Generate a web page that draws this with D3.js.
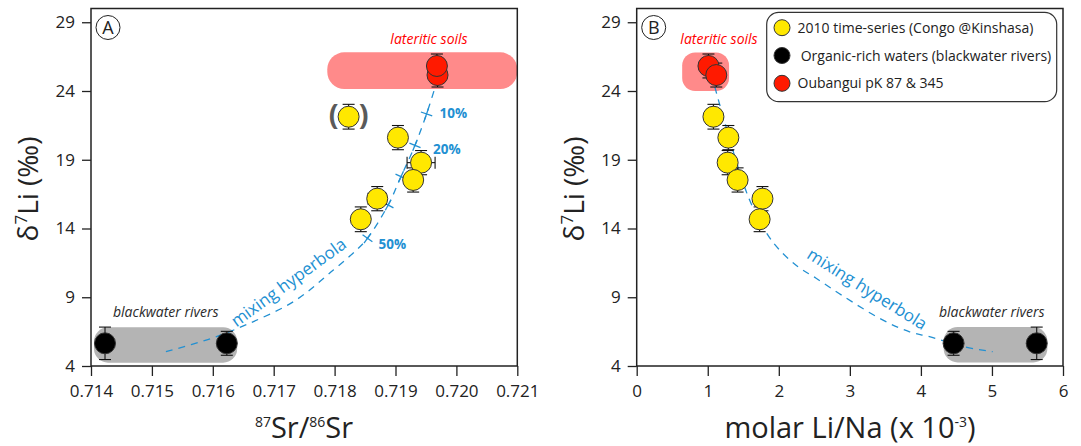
<!DOCTYPE html>
<html lang="en">
<head>
<meta charset="UTF-8">
<title>d7Li mixing</title>
<script src="https://cdn.jsdelivr.net/npm/d3@7"></script>
<style>
    body { margin: 0; background: #fff; }
    svg { display: block; font-family: 'Open Sans', sans-serif; }
</style>
</head>
<body>
<div id="chart"></div>
<script>
// ---- data ----
const srTicks   = [0.714, 0.715, 0.716, 0.717, 0.718, 0.719, 0.720, 0.721];
const liNaTicks = [0, 1, 2, 3, 4, 5, 6];
const d7Ticks   = [4, 9, 14, 19, 24, 29];

// 2010 time-series (Congo @Kinshasa)
const tsSr    = [0.71823, 0.71904, 0.71942, 0.71929, 0.71870, 0.71843];
const tsSrErr = [0, 0, 0.00023, 0, 0.00015, 0];
const tsLiNa  = [1.08, 1.29, 1.28, 1.42, 1.77, 1.73];
const tsD7    = [22.13, 20.61, 18.79, 17.53, 16.17, 14.67];
const tsD7Err = [0.9, 0.88, 0.88, 0.88, 0.88, 0.9];

// organic-rich waters (blackwater rivers)
const bwSr    = [0.71423, 0.71623];
const bwLiNa  = [5.63, 4.46];
const bwD7    = [5.65, 5.65];
const bwD7Err = [1.18, 0.87];

// Oubangui pK 87 & 345
const obSr    = [0.71968, 0.71969];
const obLiNa  = [1.01, 1.12];
const obD7    = [25.82, 25.16];
const obD7Err = [0.87, 0.87];

// mixing hyperbolas
const mixSr     = [0.71523, 0.71593, 0.71660, 0.71735, 0.71798, 0.71836, 0.71854, 0.71888, 0.71909, 0.71932, 0.71951, 0.71964];
const mixSrD7   = [5.04, 5.94, 7.10, 8.75, 10.98, 12.44, 13.29, 15.71, 17.77, 20.05, 22.33, 24.12];
const mixLiNa   = [1.10, 1.17, 1.57, 1.83, 2.01, 2.27, 2.52, 2.90, 3.46, 3.84, 4.12, 4.61, 5.01];
const mixLiNaD7 = [24.30, 22.98, 16.31, 13.65, 12.44, 11.22, 10.40, 9.10, 7.35, 6.49, 6.13, 5.40, 5.04];

// mixing-proportion marks on panel A
const pctSr    = [0.71951, 0.71932, 0.71909, 0.71888, 0.71854];
const pctD7    = [22.33, 20.05, 17.77, 15.71, 13.29];
const pctLabel = ['10%', '20%', '', '', '50%'];

const legendLabels = ['2010 time-series (Congo @Kinshasa)', 'Organic-rich waters (blackwater rivers)', 'Oubangui pK 87 & 345'];
const legendFills  = ['#ffe800', '#000000', '#ff1a00'];

// ---- drawing ----
const width = 1081, height = 446;
const blue = '#2290d2';
// where each percent label sits relative to its mark
const pctOffset = [[13, 4], [18, 9], [0, 0], [0, 0], [11, 11]];

const svg = d3.select('#chart').append('svg')
    .attr('width', width)
    .attr('height', height);

const defs = svg.append('defs');
defs.append('filter').attr('id', 'soft')
    .append('feGaussianBlur').attr('stdDeviation', 0.5);

const y = d3.scaleLinear().domain([4, 30]).range([366, 8.5]);

function drawPanel(p) {
    const g = svg.append('g');
    const x = d3.scaleLinear().domain(p.domain).range([p.left, p.left + 426.3]);

    // shaded end-member fields
    p.bands.forEach(function(b) {
        g.append('rect')
            .attr('x', x(b.x0))
            .attr('y', y(b.y1))
            .attr('width', x(b.x1) - x(b.x0))
            .attr('height', y(b.y0) - y(b.y1))
            .attr('rx', b.r).attr('ry', b.r)
            .attr('fill', b.fill)
            .attr('filter', 'url(#soft)');
    });

    // mixing line
    const line = d3.line()
        .x(function(d) { return x(d[0]); })
        .y(function(d) { return y(d[1]); })
        .curve(d3.curveCatmullRom);
    g.append('path')
        .datum(p.mix)
        .attr('d', line)
        .attr('fill', 'none')
        .attr('stroke', blue)
        .attr('stroke-width', 1.3)
        .attr('stroke-dasharray', '7,6');

    if (p.marks) {
        p.marks.forEach(function(m, k) {
            const i = p.mix.findIndex(function(d) { return d[0] === m[0]; });
            const a = p.mix[Math.max(i - 1, 0)], b = p.mix[Math.min(i + 1, p.mix.length - 1)];
            let dx = x(b[0]) - x(a[0]), dy = y(b[1]) - y(a[1]);
            const len = Math.sqrt(dx * dx + dy * dy);
            dx /= len; dy /= len;
            const cx = x(m[0]), cy = y(m[1]), h = 6;
            g.append('line')
                .attr('x1', cx - dy * h).attr('y1', cy + dx * h)
                .attr('x2', cx + dy * h).attr('y2', cy - dx * h)
                .attr('stroke', blue).attr('stroke-width', 1.3);
            g.append('line')
                .attr('x1', cx - dx * h).attr('y1', cy - dy * h)
                .attr('x2', cx + dx * h).attr('y2', cy + dy * h)
                .attr('stroke', blue).attr('stroke-width', 1.3);
            if (m[2]) {
                g.append('text')
                    .attr('x', cx + pctOffset[k][0]).attr('y', cy + pctOffset[k][1])
                    .attr('fill', blue)
                    .attr('font-size', 13.5)
                    .attr('font-weight', 'bold')
                    .text(m[2]);
            }
        });
    }

    // points with error bars
    p.series.forEach(function(s) {
        s.x.forEach(function(xv, i) {
            const cx = x(xv), cy = y(s.y[i]);
            const t = y(s.y[i] + s.err[i]), bt = y(s.y[i] - s.err[i]);
            g.append('line').attr('x1', cx).attr('x2', cx).attr('y1', t).attr('y2', bt)
                .attr('stroke', '#111').attr('stroke-width', 1.1);
            [t, bt].forEach(function(yy) {
                g.append('line').attr('x1', cx - 6).attr('x2', cx + 6).attr('y1', yy).attr('y2', yy)
                    .attr('stroke', '#111').attr('stroke-width', 1.1);
            });
            if (s.xerr && s.xerr[i]) {
                const l = x(xv - s.xerr[i]), r = x(xv + s.xerr[i]);
                g.append('line').attr('x1', l).attr('x2', r).attr('y1', cy).attr('y2', cy)
                    .attr('stroke', '#111').attr('stroke-width', 1.1);
                [l, r].forEach(function(xx) {
                    g.append('line').attr('x1', xx).attr('x2', xx).attr('y1', cy - 6).attr('y2', cy + 6)
                        .attr('stroke', '#111').attr('stroke-width', 1.1);
                });
            }
        });
        const order = s.x.map(function(d, i) { return i; });
        if (s.reverse) order.reverse();
        order.forEach(function(i) {
            g.append('circle')
                .attr('cx', x(s.x[i])).attr('cy', y(s.y[i]))
                .attr('r', 10.5)
                .attr('fill', s.fill)
                .attr('stroke', '#333')
                .attr('stroke-width', 1);
        });
    });

    // axes
    const xAxis = d3.axisBottom(x).tickValues(p.ticks).tickSize(10).tickPadding(8.5)
        .tickFormat(p.fmt);
    const yAxis = d3.axisLeft(y).tickValues(d7Ticks).tickSize(9).tickPadding(7);
    g.append('g').attr('transform', 'translate(0,366)').call(xAxis);
    g.append('g').attr('transform', 'translate(' + p.left + ',0)').call(yAxis);
    g.selectAll('.domain').remove();
    g.selectAll('.tick line').attr('stroke', '#222').attr('stroke-width', 1.3);
    g.selectAll('.tick text').attr('font-size', 17).attr('fill', '#222')
        .attr('font-family', "'Open Sans', sans-serif");

    g.append('rect')
        .attr('x', p.left).attr('y', y(30))
        .attr('width', 426.3).attr('height', y(4) - y(30))
        .attr('fill', 'none').attr('stroke', '#222').attr('stroke-width', 1.5);

    // panel letter
    g.append('circle').attr('cx', p.left + 17).attr('cy', 27.5).attr('r', 12)
        .attr('fill', '#fff').attr('stroke', '#222').attr('stroke-width', 1);
    g.append('text').attr('x', p.left + 17).attr('y', 34).attr('text-anchor', 'middle')
        .attr('font-size', 18).attr('fill', '#222').text(p.letter);

    // y title
    const yt = g.append('text')
        .attr('transform', 'translate(' + (p.left - 53) + ',189) rotate(-90)')
        .attr('text-anchor', 'middle')
        .attr('font-size', 28).attr('fill', '#222');
    yt.append('tspan').text('δ');
    yt.append('tspan').attr('font-size', 17).attr('dy', -11).text('7');
    yt.append('tspan').attr('dy', 11).text('Li (‰)');

    return { g: g, x: x };
}

// ---- panel A ----
const A = drawPanel({
    letter: 'A', left: 91, domain: [0.714, 0.721], ticks: srTicks,
    fmt: d3.format('.3f'),
    bands: [
        { x0: 0.71788, x1: 0.72100, y0: 24.15, y1: 26.81, r: 17, fill: '#ff8a8a' },
        { x0: 0.71405, x1: 0.71640, y0: 4.24,  y1: 6.81,  r: 14, fill: '#b4b4b4' }
    ],
    mix: mixSr.map(function(v, i) { return [v, mixSrD7[i]]; }),
    marks: pctSr.map(function(v, i) { return [v, pctD7[i], pctLabel[i]]; }),
    series: [
        { x: bwSr, y: bwD7, err: bwD7Err, fill: '#000' },
        { x: obSr, y: obD7, err: obD7Err, fill: '#ff1a00', reverse: true },
        { x: tsSr, y: tsD7, err: tsD7Err, xerr: tsSrErr, fill: '#ffe800' }
    ]
});

// brackets around the doubtful sample
[['(', -15], [')', 15]].forEach(function(b) {
    A.g.append('text')
        .attr('x', A.x(tsSr[0]) + b[1]).attr('y', y(tsD7[0]) + 8)
        .attr('text-anchor', 'middle')
        .attr('font-size', 29).attr('font-weight', 'bold').attr('fill', '#5a5a5a')
        .text(b[0]);
});

A.g.append('text').attr('x', 429).attr('y', 44).attr('text-anchor', 'middle')
    .attr('font-size', 14).attr('font-style', 'italic').attr('fill', '#ff0000')
    .text('lateritic soils');
A.g.append('text').attr('x', 113).attr('y', 317)
    .attr('font-size', 14).attr('font-style', 'italic').attr('fill', '#2a2a2a')
    .text('blackwater rivers');
A.g.append('text').attr('transform', 'translate(292,287) rotate(-36)')
    .attr('text-anchor', 'middle').attr('font-size', 17).attr('fill', blue)
    .text('mixing hyperbola');

const xtA = A.g.append('text').attr('x', 304).attr('y', 438).attr('text-anchor', 'middle')
    .attr('font-size', 29).attr('fill', '#222');
xtA.append('tspan').attr('font-size', 14).attr('dy', -11).text('87');
xtA.append('tspan').attr('dy', 11).text('Sr/');
xtA.append('tspan').attr('font-size', 14).attr('dy', -11).text('86');
xtA.append('tspan').attr('dy', 11).text('Sr');

// ---- panel B ----
const B = drawPanel({
    letter: 'B', left: 636.7, domain: [0, 6], ticks: liNaTicks,
    fmt: d3.format('d'),
    bands: [
        { x0: 0.64, x1: 1.30, y0: 24.0, y1: 26.8, r: 13, fill: '#ff8a8a' },
        { x0: 4.32, x1: 5.78, y0: 4.26, y1: 6.83, r: 14, fill: '#b4b4b4' }
    ],
    mix: mixLiNa.map(function(v, i) { return [v, mixLiNaD7[i]]; }),
    series: [
        { x: bwLiNa, y: bwD7, err: bwD7Err, fill: '#000' },
        { x: obLiNa, y: obD7, err: obD7Err, fill: '#ff1a00' },
        { x: tsLiNa, y: tsD7, err: tsD7Err, fill: '#ffe800' }
    ]
});

B.g.append('text').attr('x', 719).attr('y', 44).attr('text-anchor', 'middle')
    .attr('font-size', 14).attr('font-style', 'italic').attr('fill', '#ff0000')
    .text('lateritic soils');
B.g.append('text').attr('x', 939).attr('y', 317)
    .attr('font-size', 14).attr('font-style', 'italic').attr('fill', '#2a2a2a')
    .text('blackwater rivers');
B.g.append('text').attr('transform', 'translate(864,294) rotate(32)')
    .attr('text-anchor', 'middle').attr('font-size', 17).attr('fill', blue)
    .text('mixing hyperbola');

const xtB = B.g.append('text').attr('x', 850).attr('y', 438).attr('text-anchor', 'middle')
    .attr('font-size', 29).attr('fill', '#222');
xtB.append('tspan').text('molar Li/Na (x 10');
xtB.append('tspan').attr('font-size', 14).attr('dy', -11).text('-3');
xtB.append('tspan').attr('dy', 11).text(')');

// legend
const lg = svg.append('g');
lg.append('rect').attr('x', 766.7).attr('y', 12.3).attr('width', 290).attr('height', 89.4)
    .attr('rx', 12).attr('fill', '#fff').attr('stroke', '#333').attr('stroke-width', 1.2);
legendLabels.forEach(function(t, i) {
    const cy = 27.7 + i * 27.8;
    lg.append('circle').attr('cx', 782).attr('cy', cy).attr('r', 8)
        .attr('fill', legendFills[i]).attr('stroke', '#333').attr('stroke-width', 1);
    lg.append('text').attr('x', i === 1 ? 800.7 : 797.5).attr('y', cy + 5)
        .attr('font-size', 14).attr('fill', '#222').text(t);
});
</script>
</body>
</html>
